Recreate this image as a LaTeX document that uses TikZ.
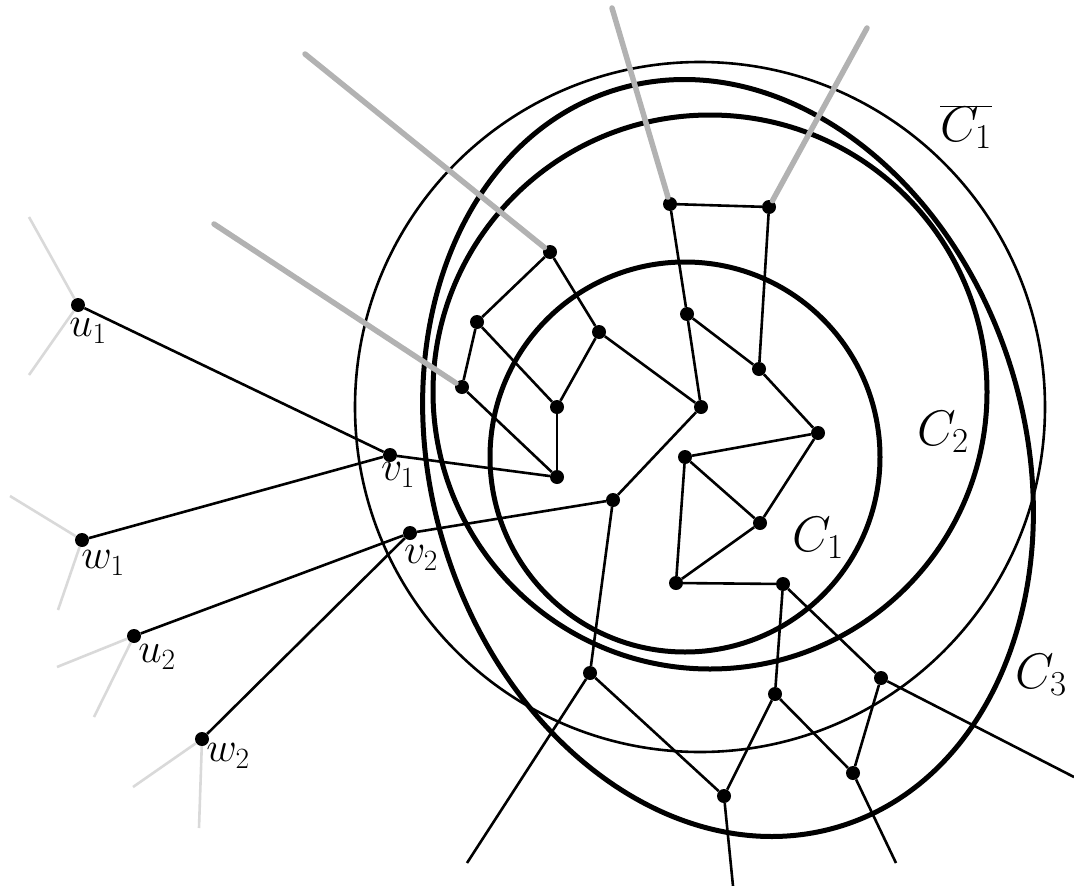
\documentclass[tikz,border=0pt]{standalone}
\usepackage{fix-cm}
\begin{document}
\begin{tikzpicture}[x=1pt,y=-1pt,
  vtx/.style={circle, fill=black, inner sep=0pt, minimum size=14pt},
  ln/.style={line width=2.6pt},
  cyc/.style={line width=5pt},
  ring/.style={line width=2.6pt},
  half/.style={line width=5.5pt, draw=black!30, line cap=round},
  stub/.style={line width=2.6pt, draw=black!15},
  vlab/.style={font=\fontsize{42}{50}\selectfont, inner sep=0pt},
  clab/.style={font=\fontsize{50}{60}\selectfont, inner sep=0pt}]
\useasboundingbox (0,0) rectangle (1074,886);

% curves
\draw[ring] (700,407) circle [radius=345pt];
\draw[cyc] (685,457) circle [radius=195pt];
\draw[cyc] (710,392) circle [radius=277pt];
\draw[cyc, rotate around={16.8:(728,458)}] (728,458) ellipse [x radius=297pt, y radius=385pt];

% vertices
\node[vtx] (a) at (670,204) {};
\node[vtx] (b) at (769,207) {};
\node[vtx] (c) at (550,252) {};
\node[vtx] (d) at (477,322) {};
\node[vtx] (e) at (599,332) {};
\node[vtx] (f) at (687,314) {};
\node[vtx] (g) at (462,387) {};
\node[vtx] (h) at (557,407) {};
\node[vtx] (i) at (701,407) {};
\node[vtx] (j) at (759,369) {};
\node[vtx] (k) at (818,433) {};
\node[vtx] (l) at (685,457) {};
\node[vtx] (m) at (557,477) {};
\node[vtx] (n) at (613,500) {};
\node[vtx] (o) at (760,523) {};
\node[vtx] (p) at (676,583) {};
\node[vtx] (q) at (783,584) {};
\node[vtx] (r) at (590,673) {};
\node[vtx] (s) at (775,694) {};
\node[vtx] (t) at (881,678) {};
\node[vtx] (x) at (724,796) {};
\node[vtx] (y) at (853,773) {};
\node[vtx] (u1) at (78,305) {};
\node[vtx] (v1) at (390,455) {};
\node[vtx] (w1) at (82,540) {};
\node[vtx] (v2) at (410,533) {};
\node[vtx] (u2) at (134,636) {};
\node[vtx] (w2) at (202,739) {};

% free ends
\coordinate (ga) at (612,8);
\coordinate (gb) at (867,28);
\coordinate (gc) at (305,54);
\coordinate (gg) at (214,224);
\coordinate (r0) at (467,863);
\coordinate (t0) at (1074,777);
\coordinate (x0) at (733,886);
\coordinate (y0) at (896,863);
\coordinate (u1a) at (29,217);
\coordinate (u1b) at (29,375);
\coordinate (w1a) at (10,496);
\coordinate (w1b) at (58,610);
\coordinate (u2a) at (57,667);
\coordinate (u2b) at (94,717);
\coordinate (w2a) at (133,787);
\coordinate (w2b) at (199,828);

% gray half-edges
\draw[half] (ga) -- (a);
\draw[half] (gb) -- (b);
\draw[half] (gc) -- (c);
\draw[half] (gg) -- (g);

% light stubs
\draw[stub] (u1a) -- (u1);
\draw[stub] (u1b) -- (u1);
\draw[stub] (w1a) -- (w1);
\draw[stub] (w1b) -- (w1);
\draw[stub] (u2a) -- (u2);
\draw[stub] (u2b) -- (u2);
\draw[stub] (w2a) -- (w2);
\draw[stub] (w2b) -- (w2);

% edges
\draw[ln] (a) -- (b);
\draw[ln] (a) -- (f);
\draw[ln] (b) -- (j);
\draw[ln] (c) -- (d);
\draw[ln] (c) -- (e);
\draw[ln] (d) -- (g);
\draw[ln] (d) -- (h);
\draw[ln] (e) -- (h);
\draw[ln] (e) -- (i);
\draw[ln] (f) -- (i);
\draw[ln] (f) -- (j);
\draw[ln] (g) -- (m);
\draw[ln] (h) -- (m);
\draw[ln] (j) -- (k);
\draw[ln] (k) -- (l);
\draw[ln] (k) -- (o);
\draw[ln] (l) -- (o);
\draw[ln] (l) -- (p);
\draw[ln] (o) -- (p);
\draw[ln] (p) -- (q);
\draw[ln] (i) -- (n);
\draw[ln] (n) -- (v2);
\draw[ln] (m) -- (v1);
\draw[ln] (n) -- (r);
\draw[ln] (q) -- (s);
\draw[ln] (q) -- (t);
\draw[ln] (r) -- (x);
\draw[ln] (s) -- (x);
\draw[ln] (s) -- (y);
\draw[ln] (t) -- (y);
\draw[ln] (r) -- (r0);
\draw[ln] (t) -- (t0);
\draw[ln] (x) -- (x0);
\draw[ln] (y) -- (y0);
\draw[ln] (u1) -- (v1);
\draw[ln] (v1) -- (w1);
\draw[ln] (v2) -- (u2);
\draw[ln] (v2) -- (w2);

% vertex labels
\node[vlab] (lu1) at (88,331) {$u_1$};
\node[vlab] (lv1) at (398,475) {$v_1$};
\node[vlab] (lw1) at (103,563) {$w_1$};
\node[vlab] (lv2) at (421,558) {$v_2$};
\node[vlab] (lu2) at (157,657) {$u_2$};
\node[vlab] (lw2) at (228,756) {$w_2$};

% cycle labels
\node[clab] (lc1) at (818,538) {$C_1$};
\node[clab] (lc2) at (943,432) {$C_2$};
\node[clab] (lc3) at (1041,675) {$C_3$};
\node[clab] (lc1b) at (966,127) {$\overline{C_1}$};
\end{tikzpicture}
\end{document}
